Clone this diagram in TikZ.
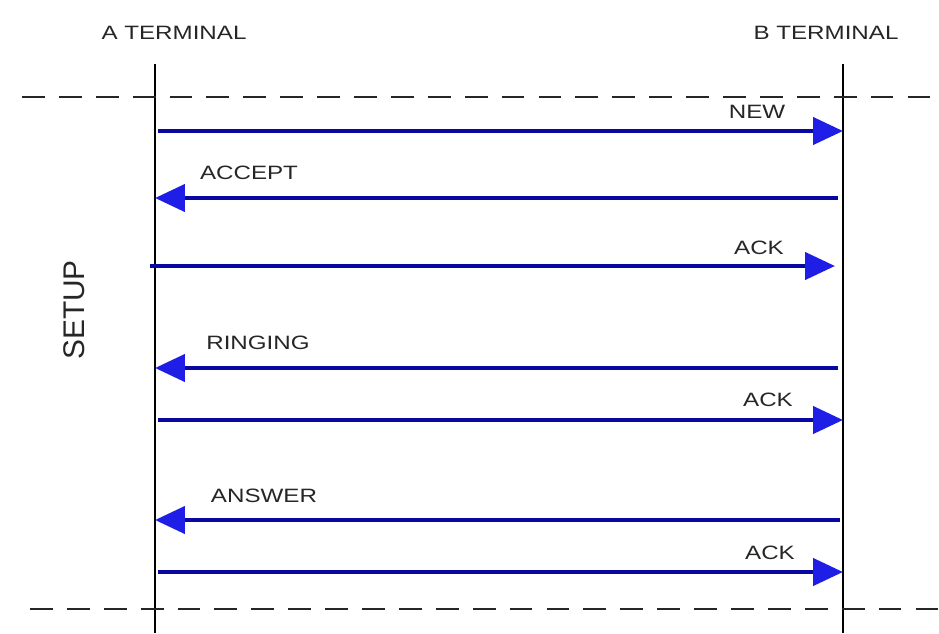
\documentclass[tikz,border=0pt]{standalone}
\usepackage{fontspec}
\setmainfont{Liberation Sans}
\newfontfamily\widesans[FakeStretch=1.25]{Liberation Sans}
\usetikzlibrary{arrows.meta}

\definecolor{msgblue}{RGB}{8,8,160}
\definecolor{tipblue}{RGB}{30,30,230}

\tikzset{
  lifeline/.style={black, line width=1pt},
  phaseline/.style={black!85, line width=1.2pt, dash pattern=on 13pt off 8pt},
  msg/.style={msgblue, line width=2.5pt,
    -{Triangle[length=0.6cm,width=0.54cm,color=tipblue]}},
  lbl/.style={font=\widesans\fontsize{11}{13}\selectfont, text=black!85, inner sep=0pt},
  phaselbl/.style={font=\fontsize{17}{20}\selectfont, text=black!85, inner sep=0pt, rotate=90},
}

\begin{document}
\begin{tikzpicture}[x=0.02cm,y=-0.02cm]
\useasboundingbox (0,0) rectangle (939,633);

%terminals
\node[lbl] (termA) at (174,33) {A TERMINAL};
\node[lbl] (termB) at (826,33) {B TERMINAL};
\coordinate (topA) at (155,64);
\coordinate (botA) at (155,633);
\coordinate (topB) at (843,64);
\coordinate (botB) at (843,633);
\draw[lifeline] (topA) -- (botA);
\draw[lifeline] (topB) -- (botB);

%setup phase, upper and lower border
\coordinate (upL) at (22,97);
\coordinate (upR) at (939,97);
\coordinate (lowL) at (30,609);
\coordinate (lowR) at (939,609);
\draw[phaseline] (upL) -- (upR);
\draw[phaseline] (lowL) -- (lowR);
\node[phaselbl] (setup) at (74,310) {SETUP};

%A -> B : NEW
\coordinate (newA) at (158,131);
\coordinate (newB) at (843,131);
\draw[msg] (newA) -- (newB);
\node[lbl] (new) at (757,112) {NEW};

%B -> A : ACCEPT
\coordinate (accB) at (838,198);
\coordinate (accA) at (155,198);
\draw[msg] (accB) -- (accA);
\node[lbl] (accept) at (249,173) {ACCEPT};

%A -> B : ACK
\coordinate (ackoneA) at (150,266);
\coordinate (ackoneB) at (835,266);
\draw[msg] (ackoneA) -- (ackoneB);
\node[lbl] (ackone) at (759,248) {ACK};

%B -> A : RINGING
\coordinate (ringB) at (838,368);
\coordinate (ringA) at (155,368);
\draw[msg] (ringB) -- (ringA);
\node[lbl] (ringing) at (258,343) {RINGING};

%A -> B : ACK
\coordinate (acktwoA) at (158,420);
\coordinate (acktwoB) at (843,420);
\draw[msg] (acktwoA) -- (acktwoB);
\node[lbl] (acktwo) at (768,400) {ACK};

%B -> A : ANSWER
\coordinate (ansB) at (840,520);
\coordinate (ansA) at (155,520);
\draw[msg] (ansB) -- (ansA);
\node[lbl] (answer) at (264,496) {ANSWER};

%A -> B : ACK
\coordinate (ackthreeA) at (158,572);
\coordinate (ackthreeB) at (843,572);
\draw[msg] (ackthreeA) -- (ackthreeB);
\node[lbl] (ackthree) at (770,553) {ACK};

\end{tikzpicture}
\end{document}
